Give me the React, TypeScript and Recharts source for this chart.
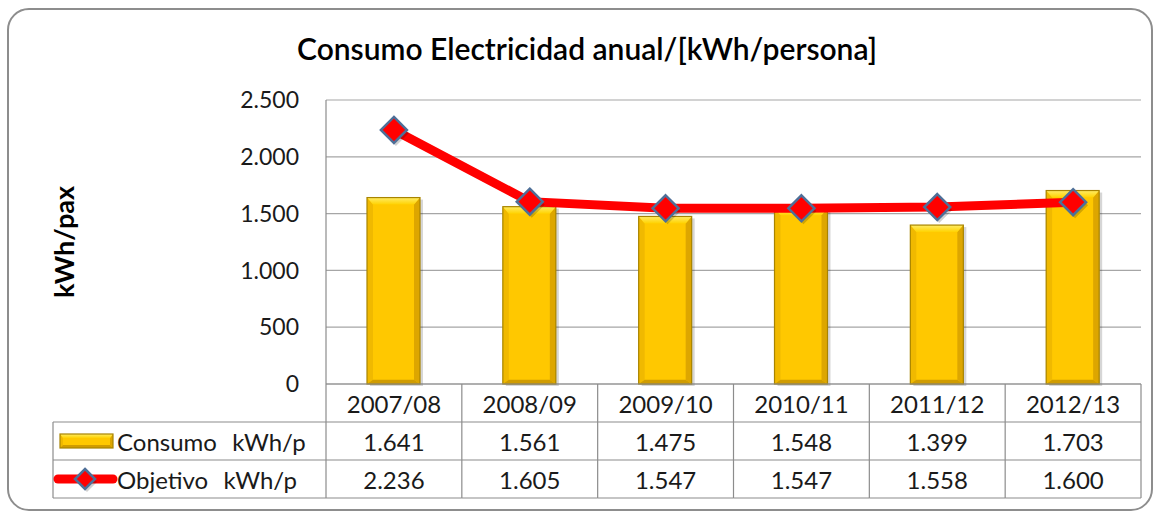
import React from 'react';
import { ComposedChart, Bar, Line, XAxis, YAxis, CartesianGrid } from 'recharts';

const categories = ['2007/08', '2008/09', '2009/10', '2010/11', '2011/12', '2012/13'];
const consumo = [1641, 1561, 1475, 1548, 1399, 1703];
const objetivo = [2236, 1605, 1547, 1547, 1558, 1600];
const yTicks = [0, 500, 1000, 1500, 2000, 2500];
const seriesNames = ['Consumo  kWh/p', 'Objetivo  kWh/p'];
const title = 'Consumo Electricidad anual/[kWh/persona]';
const yLabel = 'kWh/pax';

const data = categories.map((c, i) => ({ cat: c, consumo: consumo[i], objetivo: objetivo[i] }));

const W = 1158;
const H = 516;
const M = { top: 100, right: 17, bottom: 0, left: 0 };
const XH = 132;
const YW = 326;
const ROW = 38;
const LEG_LEFT = 53;
const FONT = 'Lato, "Open Sans", sans-serif';
const GRID = '#a6a6a6';
const TABLE = '#8c8c8c';
const TXT = '#1a1a1a';

const fmt = (n: number) => String(n).replace(/\B(?=(\d{3})+(?!\d))/g, '.');

function goldShape(x: number, y: number, w: number, h: number, t: number, s: number, shadow = true) {
  const bt = Math.min(t, h / 2);
  const bb = Math.min(Math.max(3, t * 0.6), h / 2);
  return (
    <g>
      <defs>
        <linearGradient id="goldTop" x1="0" y1="0" x2="0" y2="1">
          <stop offset="0" stopColor="#FFEC66" />
          <stop offset="1" stopColor="#FFD200" />
        </linearGradient>
      </defs>
      {shadow && <rect x={x + 3} y={y + 2} width={w} height={h} fill="rgba(0,0,0,0.16)" />}
      <rect x={x} y={y} width={w} height={h} fill="#FFC800" />
      <polygon points={`${x},${y} ${x + s},${y + bt} ${x + s},${y + h - bb} ${x},${y + h}`} fill="#F0B900" />
      <polygon points={`${x + w},${y} ${x + w},${y + h} ${x + w - s},${y + h - bb} ${x + w - s},${y + bt}`} fill="#DDA600" />
      <polygon points={`${x},${y} ${x + w},${y} ${x + w - s},${y + bt} ${x + s},${y + bt}`} fill="url(#goldTop)" />
      <polygon points={`${x},${y + h} ${x + s},${y + h - bb} ${x + w - s},${y + h - bb} ${x + w},${y + h}`} fill="#D09C00" />
      <rect x={x} y={y} width={w} height={h} fill="none" stroke="#A88400" strokeWidth={1.2} />
    </g>
  );
}

function GoldBar(props: any) {
  const { x, y, width, height } = props;
  if (!height || height <= 0) return null;
  return goldShape(x, y, width, height, 7, 6);
}

function diamond(cx: number, cy: number, r: number) {
  return (
    <g>
      <polygon points={`${cx + 2},${cy - r + 3} ${cx + r + 2},${cy + 3} ${cx + 2},${cy + r + 3} ${cx - r + 2},${cy + 3}`} fill="rgba(0,0,0,0.18)" />
      <polygon points={`${cx},${cy - r} ${cx + r},${cy} ${cx},${cy + r} ${cx - r},${cy}`} fill="#FF0000" stroke="#4E6F98" strokeWidth={2.5} />
    </g>
  );
}

function DiamondDot(props: any) {
  const { cx, cy } = props;
  if (cx == null || cy == null) return null;
  return <g key={`d-${cx}`}>{diamond(cx, cy, 13)}</g>;
}

function TableTick(props: any) {
  const { x, index, payload } = props;
  const i = typeof index === 'number' ? index : payload.index;
  const bw = (W - M.left - YW - M.right) / categories.length;
  const top = H - M.bottom - XH;
  const l = x - bw / 2;
  const r = x + bw / 2;
  const ts = { fontFamily: FONT, fontSize: 24, fill: TXT } as any;
  return (
    <g>
      <line x1={l} y1={top} x2={l} y2={top + 3 * ROW} stroke={TABLE} strokeWidth={1.2} />
      {i === categories.length - 1 && <line x1={r} y1={top} x2={r} y2={top + 3 * ROW} stroke={TABLE} strokeWidth={1.2} />}
      <line x1={l} y1={top + ROW} x2={r} y2={top + ROW} stroke={TABLE} strokeWidth={1.2} />
      <line x1={l} y1={top + 2 * ROW} x2={r} y2={top + 2 * ROW} stroke={TABLE} strokeWidth={1.2} />
      <line x1={l} y1={top + 3 * ROW} x2={r} y2={top + 3 * ROW} stroke={TABLE} strokeWidth={1.2} />
      <text x={x} y={top + ROW / 2} textAnchor="middle" dominantBaseline="central" style={ts}>{payload.value}</text>
      <text x={x} y={top + 1.5 * ROW} textAnchor="middle" dominantBaseline="central" style={ts}>{fmt(consumo[i])}</text>
      <text x={x} y={top + 2.5 * ROW} textAnchor="middle" dominantBaseline="central" style={ts}>{fmt(objetivo[i])}</text>
      {i === 0 && (
        <g>
          <line x1={LEG_LEFT} y1={top + ROW} x2={l} y2={top + ROW} stroke={TABLE} strokeWidth={1.2} />
          <line x1={LEG_LEFT} y1={top + 2 * ROW} x2={l} y2={top + 2 * ROW} stroke={TABLE} strokeWidth={1.2} />
          <line x1={LEG_LEFT} y1={top + 3 * ROW} x2={l} y2={top + 3 * ROW} stroke={TABLE} strokeWidth={1.2} />
          <line x1={LEG_LEFT} y1={top + ROW} x2={LEG_LEFT} y2={top + 3 * ROW} stroke={TABLE} strokeWidth={1.2} />
          {goldShape(LEG_LEFT + 7, top + 1.5 * ROW - 7, 53, 14, 4, 3, false)}
          <line x1={LEG_LEFT + 5} y1={top + 2.5 * ROW} x2={LEG_LEFT + 60} y2={top + 2.5 * ROW} stroke="#FF0000" strokeWidth={9} strokeLinecap="round" />
          {diamond(LEG_LEFT + 32, top + 2.5 * ROW, 10)}
          <text x={LEG_LEFT + 64} y={top + 1.5 * ROW} dominantBaseline="central" style={{ ...ts, whiteSpace: 'pre', wordSpacing: 1.5 }}>{seriesNames[0]}</text>
          <text x={LEG_LEFT + 64} y={top + 2.5 * ROW} dominantBaseline="central" style={{ ...ts, whiteSpace: 'pre', wordSpacing: 1.5 }}>{seriesNames[1]}</text>
        </g>
      )}
    </g>
  );
}

export default function App() {
  return (
    <div style={{ position: 'absolute', left: 0, top: 0, width: W, height: H, background: '#fff' }}>
      <div
        style={{
          position: 'absolute', left: 7, top: 8, width: 1146, height: 503,
          border: '2px solid #8d8d8d', borderRadius: 22, boxSizing: 'border-box',
        }}
      />
      <div style={{ position: 'absolute', left: 0, top: 0 }}>
        <ComposedChart width={W} height={H} data={data} margin={M}>
          <CartesianGrid vertical={false} stroke={GRID} strokeWidth={1.2} />
          <XAxis
            dataKey="cat"
            height={XH}
            axisLine={{ stroke: TABLE, strokeWidth: 1.2 }}
            tickLine={false}
            tickSize={0}
            tickMargin={0}
            interval={0}
            tick={<TableTick />}
          />
          <YAxis
            width={YW}
            domain={[0, 2500]}
            ticks={yTicks}
            interval={0}
            tickFormatter={fmt}
            axisLine={{ stroke: TABLE, strokeWidth: 1.2 }}
            tickLine={false}
            tickSize={0}
            tickMargin={27}
            tick={{ fontFamily: FONT, fontSize: 23, fill: TXT }}
          />
          <Bar dataKey="consumo" barSize={53} shape={<GoldBar />} isAnimationActive={false} />
          <Line
            dataKey="objetivo"
            type="linear"
            stroke="#FF0000"
            strokeWidth={9}
            dot={<DiamondDot />}
            activeDot={false}
            isAnimationActive={false}
          />
        </ComposedChart>
      </div>
      <svg width={W} height={H} style={{ position: 'absolute', left: 0, top: 0, pointerEvents: 'none' }}>
        <text x={587} y={48} textAnchor="middle" dominantBaseline="central"
          style={{ fontFamily: FONT, fontSize: 30, fontWeight: 600, fill: '#000' }}>{title}</text>
        <text x={63} y={242} textAnchor="middle" dominantBaseline="central" transform="rotate(-90 63 242)"
          style={{ fontFamily: FONT, fontSize: 27, fontWeight: 700, fill: '#000' }}>{yLabel}</text>
      </svg>
    </div>
  );
}
